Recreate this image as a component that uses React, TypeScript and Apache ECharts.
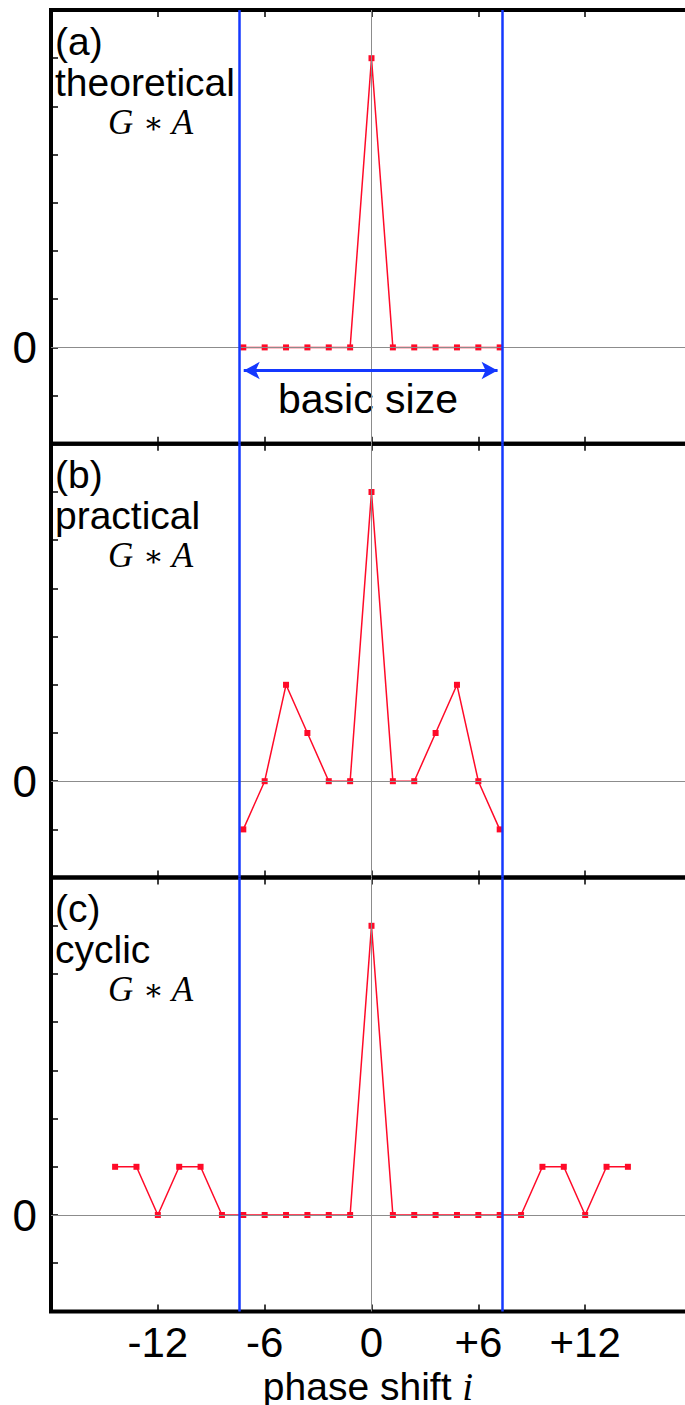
import React, { useEffect, useRef } from "react";
import * as echarts from "echarts";

// phase shift i of each sample
const shiftBasic = [-6, -5, -4, -3, -2, -1, 0, 1, 2, 3, 4, 5, 6];
const shiftCyclic = [-12, -11, -10, -9, -8, -7, -6, -5, -4, -3, -2, -1, 0, 1, 2, 3, 4, 5, 6, 7, 8, 9, 10, 11, 12];

// G * A values per panel
const theoretical = [0, 0, 0, 0, 0, 0, 6, 0, 0, 0, 0, 0, 0];
const practical = [-1, 0, 2, 1, 0, 0, 6, 0, 0, 1, 2, 0, -1];
const cyclic = [1, 1, 0, 1, 1, 0, 0, 0, 0, 0, 0, 0, 6, 0, 0, 0, 0, 0, 0, 0, 1, 1, 0, 1, 1];

// x tick positions and their printed labels
const xTickValues = [-10, -5, 0, 5, 10];
const xTickLabels = ["-12", "-6", "0", "+6", "+12"];

// edges of the basic size window and the arrow under panel (a)
const basicEdges = [-6.2, 6.12];
const arrowSpan = [-5.98, 5.9];
const arrowLevel = -0.48;

const panelNames = ["(a)", "(b)", "(c)"];
const panelKinds = ["theoretical", "practical", "cyclic"];

const SANS = '"Liberation Sans", Arial, sans-serif';
const SERIF = '"Liberation Serif", "DejaVu Serif", serif';
const RED = "#ff0a28";
const BLUE = "#1438ff";

export default function App() {
  const ref = useRef<HTMLDivElement>(null);

  useEffect(() => {
    if (!ref.current) return;
    const chart = echarts.init(ref.current, null, { renderer: "svg" });

    const tops = [10, 443.8, 877.6];
    const h = 433.8;
    const panels = [
      shiftBasic.map((x, k) => [x, theoretical[k]]),
      shiftBasic.map((x, k) => [x, practical[k]]),
      shiftCyclic.map((x, k) => [x, cyclic[k]]),
    ];

    const grid: any[] = [];
    const xAxis: any[] = [];
    const yAxis: any[] = [];
    const series: any[] = [];
    const tick = { inside: true, length: 7, lineStyle: { color: "#000", width: 1.5 } };

    panels.forEach((data, i) => {
      grid.push({
        left: 51,
        right: 8,
        top: tops[i],
        height: h,
        show: true,
        borderColor: "#000",
        borderWidth: 4,
      });
      const xBase = {
        gridIndex: i,
        type: "value",
        min: -15,
        max: 15,
        interval: 5,
        axisLine: { show: false, onZero: false },
        axisTick: tick,
        splitLine: { show: false },
      };
      xAxis.push({
        ...xBase,
        position: "bottom",
        axisLabel: {
          show: i === 2,
          fontSize: 42,
          lineHeight: 30,
          fontFamily: SANS,
          color: "#000",
          margin: 16,
          formatter: (v: number) => {
            const k = xTickValues.indexOf(v);
            return k >= 0 ? xTickLabels[k] : "";
          },
        },
      });
      xAxis.push({ ...xBase, position: "top", axisLabel: { show: false } });
      const yBase = {
        gridIndex: i,
        type: "value",
        min: -2,
        max: 7,
        interval: 1,
        axisLine: { show: false, onZero: false },
        axisTick: tick,
        splitLine: { show: false },
      };
      yAxis.push({
        ...yBase,
        position: "left",
        axisLabel: {
          fontSize: 44,
          fontFamily: SANS,
          color: "#000",
          margin: 14,
          formatter: (v: number) => (v === 0 ? "0" : ""),
        },
      });
      yAxis.push({ ...yBase, position: "right", axisLabel: { show: false } });

      const xi = i * 2;
      const yi = i * 2;

      // thin grey zero lines
      series.push({
        type: "line",
        xAxisIndex: xi,
        yAxisIndex: yi,
        data: [],
        z: 1,
        markLine: {
          silent: true,
          symbol: "none",
          label: { show: false },
          lineStyle: { color: "#8c8c8c", width: 1, type: "solid" },
          data: [{ yAxis: 0 }, { xAxis: 0 }],
        },
      });

      // the G * A curve
      series.push({
        type: "line",
        xAxisIndex: xi,
        yAxisIndex: yi,
        data,
        z: 3,
        symbol: "rect",
        symbolSize: 6,
        showAllSymbol: true,
        lineStyle: { color: RED, width: 1.5 },
        itemStyle: { color: RED },
      });

      // basic size boundaries (and the arrow in panel a)
      const blueData: any[] = basicEdges.map((e) => ({ xAxis: e }));
      series.push({
        type: "line",
        xAxisIndex: xi,
        yAxisIndex: yi,
        data: [],
        z: 5,
        markLine: {
          silent: true,
          symbol: "none",
          label: { show: false },
          lineStyle: { color: BLUE, width: 2.5, type: "solid" },
          data: blueData,
        },
      });
      if (i === 0) {
        series.push({
          type: "line",
          xAxisIndex: xi,
          yAxisIndex: yi,
          data: [],
          z: 5,
          markLine: {
            silent: true,
            symbol: ["arrow", "arrow"],
            symbolSize: [13, 16],
            label: { show: false },
            lineStyle: { color: BLUE, width: 3, type: "solid" },
            data: [[{ coord: [arrowSpan[0], arrowLevel] }, { coord: [arrowSpan[1], arrowLevel] }]],
          },
        });
      }
    });

    const graphic: any[] = [];
    panelNames.forEach((name, i) => {
      const t = tops[i];
      graphic.push({
        type: "text",
        x: 55,
        y: t + 31,
        style: { text: name, font: `39px ${SANS}`, fill: "#000", textVerticalAlign: "middle" },
      });
      graphic.push({
        type: "text",
        x: 55,
        y: t + 72,
        style: { text: panelKinds[i], font: `39px ${SANS}`, fill: "#000", textVerticalAlign: "middle" },
      });
      graphic.push({
        type: "text",
        x: 108,
        y: t + 112,
        style: {
          text: "{it|G}{op|∗}{it|A}",
          fill: "#000",
          textVerticalAlign: "middle",
          rich: {
            it: { fontFamily: SERIF, fontStyle: "italic", fontSize: 35, fill: "#000" },
            op: { fontFamily: SERIF, fontSize: 30, fill: "#000", padding: [0, 8, 0, 10] },
          },
        },
      });
    });
    graphic.push({
      type: "text",
      x: 368,
      y: 399,
      style: { text: "basic size", font: `41px ${SANS}`, fill: "#000", textAlign: "center", textVerticalAlign: "middle" },
    });
    graphic.push({
      type: "text",
      x: 368,
      y: 1386,
      style: {
        text: "{t|phase shift }{it|i}",
        textAlign: "center",
        textVerticalAlign: "middle",
        rich: {
          t: { fontFamily: SANS, fontSize: 39, fill: "#000", lineHeight: 30 },
          it: { fontFamily: SERIF, fontStyle: "italic", fontSize: 39, fill: "#000", lineHeight: 30 },
        },
      },
    });

    chart.setOption({
      animation: false,
      backgroundColor: "#fff",
      grid,
      xAxis,
      yAxis,
      series,
      graphic,
    });

    return () => chart.dispose();
  }, []);

  return (
    <div style={{ position: "absolute", left: 0, top: 0, width: 685, height: 1405, overflow: "hidden", background: "#fff" }}>
      <div ref={ref} style={{ width: 700, height: 1405 }} />
    </div>
  );
}
